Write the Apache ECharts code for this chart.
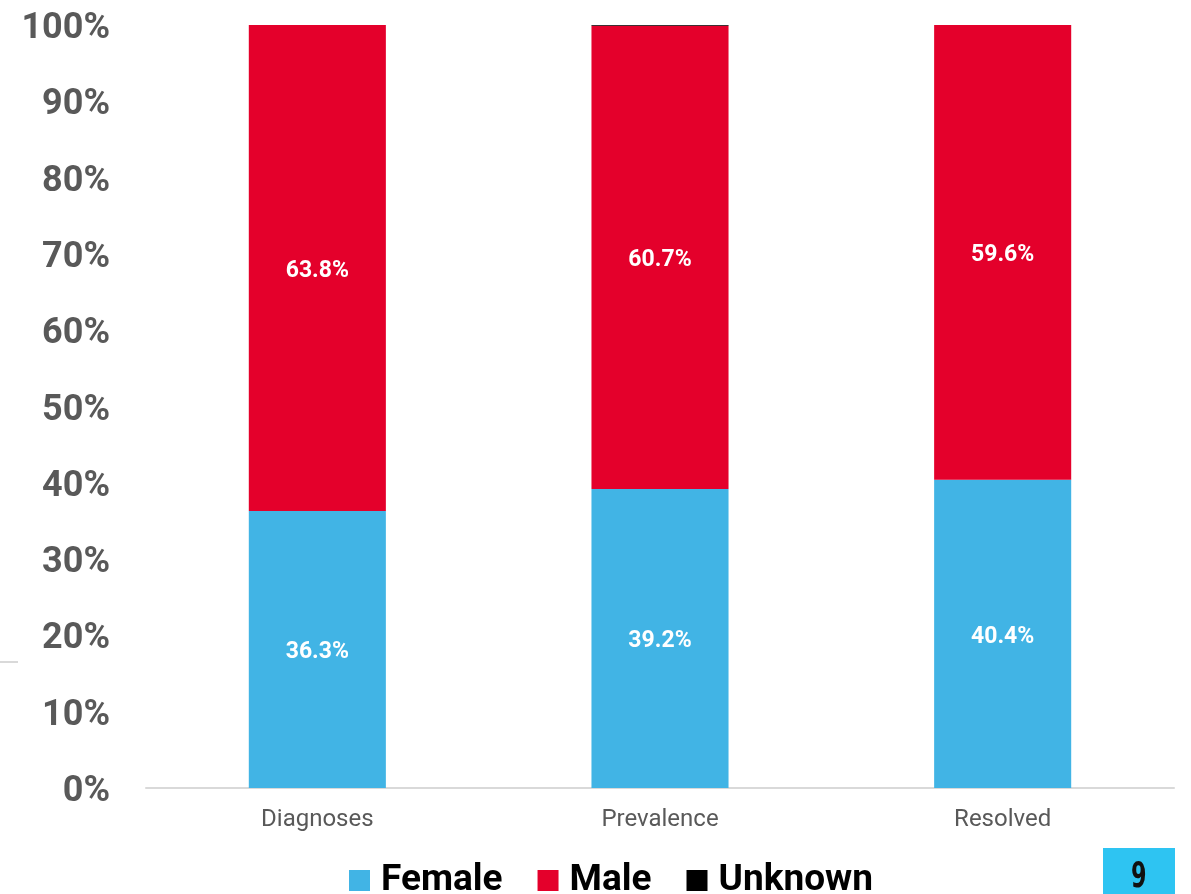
<!DOCTYPE html>
<html>
<head>
<meta charset="utf-8">
<script src="https://cdn.jsdelivr.net/npm/echarts@6/dist/echarts.min.js"></script>
<style>
html,body{margin:0;padding:0;background:#fff;}
#chart{width:1191px;height:894px;}
</style>
</head>
<body>
<div id="chart"></div>
<script>
const categories = ['Diagnoses', 'Prevalence', 'Resolved'];
const female = [36.3, 39.2, 40.4];
const male = [63.8, 60.7, 59.6];
const unknown = [0, 0.1, 0];
const yTicks = [0, 10, 20, 30, 40, 50, 60, 70, 80, 90, 100];
const pageNumber = '9';

const chart = echarts.init(document.getElementById('chart'));
const labelStyle = {
  show: true,
  position: 'inside',
  offset: [0, 3],
  color: '#ffffff',
  fontFamily: 'Roboto',
  fontWeight: 'bold',
  fontSize: 23,
  formatter: p => p.value.toFixed(1) + '%'
};
chart.setOption({
  animation: false,
  backgroundColor: '#ffffff',
  grid: { left: 146, right: 17, top: 25, bottom: 106, containLabel: false },
  xAxis: {
    type: 'category',
    data: categories,
    axisLine: { lineStyle: { color: '#d9d9d9', width: 2 } },
    axisTick: { show: false },
    axisLabel: { color: '#595959', fontFamily: 'Roboto', fontSize: 24, margin: 20 }
  },
  yAxis: {
    type: 'value',
    min: 0, max: 100, interval: 10,
    splitLine: { show: false },
    axisLine: { show: false },
    axisTick: { show: false },
    axisLabel: {
      margin: 36,
      formatter: v => yTicks.includes(v) ? '{t|' + v + '%}' : '',
      rich: {
        t: { color: '#595959', fontFamily: 'Roboto', fontWeight: 'bold', fontSize: 36, padding: [8, 0, 0, 0] }
      }
    }
  },
  legend: {
    top: 857,
    left: 344,
    itemWidth: 21,
    itemHeight: 21,
    itemGap: 35,
    icon: 'rect',
    textStyle: { color: '#000000', fontFamily: 'Roboto', fontWeight: 'bold', fontSize: 37, padding: [0, 0, 0, 6] },
    data: ['Female', 'Male', 'Unknown']
  },
  series: [
    { name: 'Female', type: 'bar', stack: 'total', barWidth: '40%', data: female,
      itemStyle: { color: '#41b4e5' }, label: labelStyle },
    { name: 'Male', type: 'bar', stack: 'total', data: male,
      itemStyle: { color: '#e4002b' }, label: labelStyle },
    { name: 'Unknown', type: 'bar', stack: 'total', data: unknown,
      itemStyle: { color: '#000000' }, label: { show: false } }
  ],
  graphic: [
    { type: 'rect', left: 0, top: 661, shape: { width: 18, height: 2 }, style: { fill: '#d9d9d9' } },
    { type: 'rect', left: 1103, top: 848, shape: { width: 72, height: 46 }, style: { fill: '#2ec4f2' } },
    { type: 'text', x: 1131, y: 860, scaleX: 0.62, style: { text: pageNumber, fill: '#111111', font: 'bold 36px "DejaVu Sans", sans-serif' } }
  ]
});
</script>
</body>
</html>
